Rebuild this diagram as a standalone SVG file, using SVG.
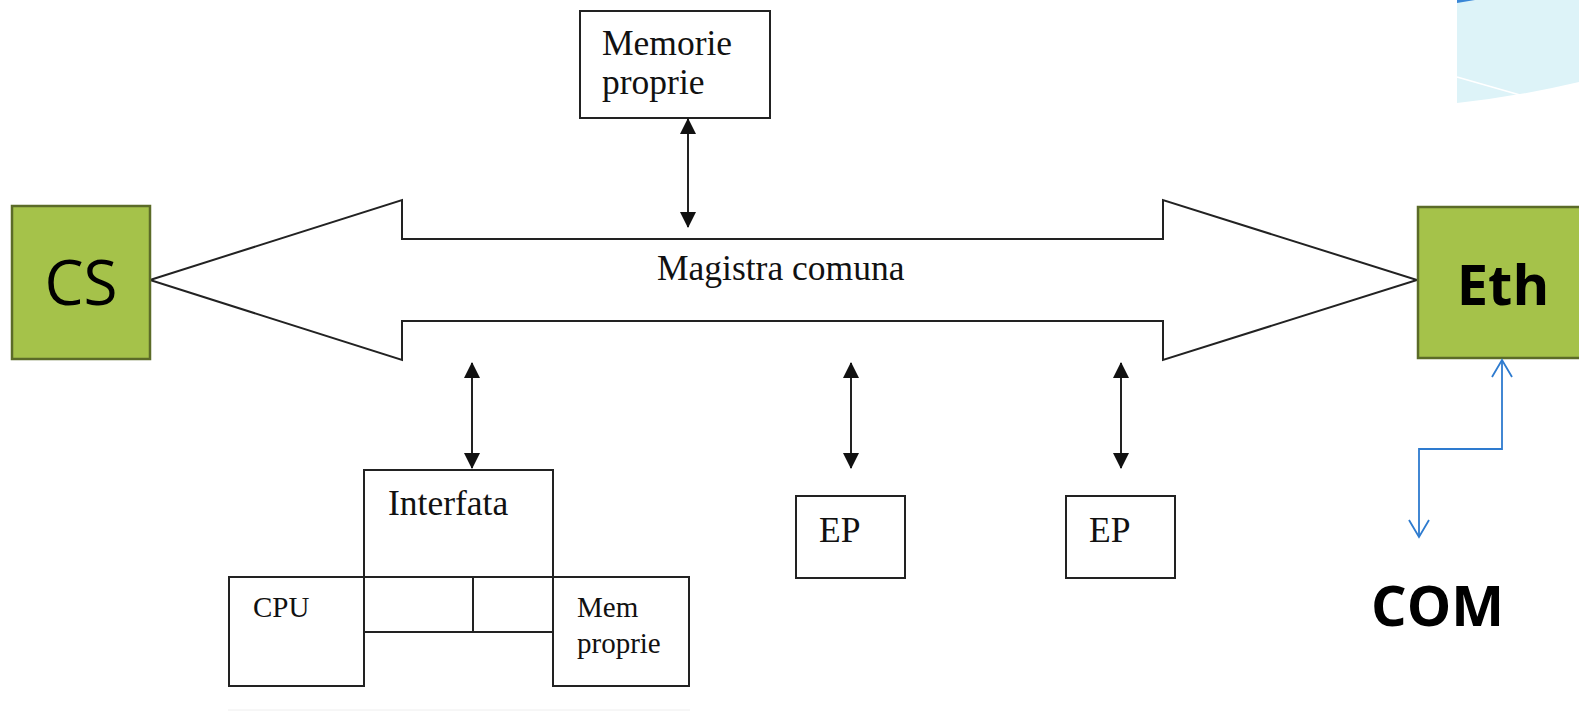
<svg xmlns="http://www.w3.org/2000/svg" width="1579" height="711" viewBox="0 0 1579 711">
<style>
.box{fill:#fff;stroke:#222;stroke-width:2}
.ser{font-family:"Liberation Serif","Times New Roman",serif;fill:#111}
.big{font-size:35.5px}
.sm{font-size:29px}
.green{fill:#A5C24A;stroke:#5B6B28;stroke-width:2.5}
.dbl{stroke:#222;stroke-width:2;fill:none;marker-start:url(#ah);marker-end:url(#ah)}
.blue{stroke:#2E7BCF;stroke-width:1.8;fill:none}
</style>
<defs>
<marker id="ah" viewBox="0 0 16 16" refX="15" refY="8" markerWidth="16" markerHeight="16" markerUnits="userSpaceOnUse" orient="auto-start-reverse">
<path d="M0,0 L16,8 L0,16 Z" fill="#111"/>
</marker>
</defs>
<g id="decoration">
<path d="M1457,0 L1579,0 L1579,82 Q1520,96 1457,103 Z" fill="#DDF3F8"/>
<path d="M1457,77 L1520,95" stroke="#fff" stroke-width="1.5"/>
<path d="M1457,0 L1475,0 L1457,3 Z" fill="#3A86D6"/>
</g>
<g id="bus">
<path d="M150,280 L402,200 L402,239 L1163,239 L1163,200 L1417,280 L1163,360 L1163,321 L402,321 L402,360 Z" fill="#fff" stroke="#222" stroke-width="2" stroke-linejoin="miter"/>
<text class="ser big" x="657" y="280">Magistra comuna</text>
</g>
<g id="cs">
<rect class="green" x="12" y="206" width="138" height="153"/>
<text x="81" y="305" text-anchor="middle" font-family="Open Sans, sans-serif" font-size="62" fill="#000">CS</text>
</g>
<g id="eth">
<rect class="green" x="1418" y="207" width="170" height="151"/>
<text x="1503" y="305" text-anchor="middle" font-family="Open Sans, sans-serif" font-weight="bold" font-size="56" fill="#000">Eth</text>
</g>
<g id="memorie">
<rect class="box" x="580" y="11" width="190" height="107"/>
<text class="ser big" x="602" y="55">Memorie</text>
<text class="ser big" x="602" y="94">proprie</text>
</g>
<g id="interfata">
<rect class="box" x="364" y="470" width="189" height="107"/>
<text class="ser big" x="388" y="515">Interfata</text>
<rect class="box" x="364" y="577" width="189" height="55"/>
<line x1="473" y1="577" x2="473" y2="632" stroke="#222" stroke-width="2"/>
</g>
<g id="cpu">
<rect class="box" x="229" y="577" width="135" height="109"/>
<text class="ser sm" x="253" y="617">CPU</text>
</g>
<g id="mem">
<rect class="box" x="553" y="577" width="136" height="109"/>
<text class="ser sm" x="577" y="617">Mem</text>
<text class="ser sm" x="577" y="653">proprie</text>
</g>
<g id="ep1">
<rect class="box" x="796" y="496" width="109" height="82"/>
<text class="ser big" x="819" y="542">EP</text>
</g>
<g id="ep2">
<rect class="box" x="1066" y="496" width="109" height="82"/>
<text class="ser big" x="1089" y="542">EP</text>
</g>
<g id="com">
<text x="1371" y="626" font-family="Open Sans, sans-serif" font-weight="bold" font-size="56" fill="#000">COM</text>
</g>
<g id="connectors">
<line class="dbl" x1="688" y1="119" x2="688" y2="227"/>
<line class="dbl" x1="472" y1="363" x2="472" y2="468"/>
<line class="dbl" x1="851" y1="363" x2="851" y2="468"/>
<line class="dbl" x1="1121" y1="363" x2="1121" y2="468"/>
<path class="blue" d="M1502,360 L1502,449 L1419,449 L1419,537"/>
<path class="blue" d="M1492,377 L1502,360 L1512,377"/>
<path class="blue" d="M1409,520 L1419,537 L1429,520"/>
<line x1="228" y1="710" x2="690" y2="710" stroke="#eee" stroke-width="1"/>
</g>
</svg>
